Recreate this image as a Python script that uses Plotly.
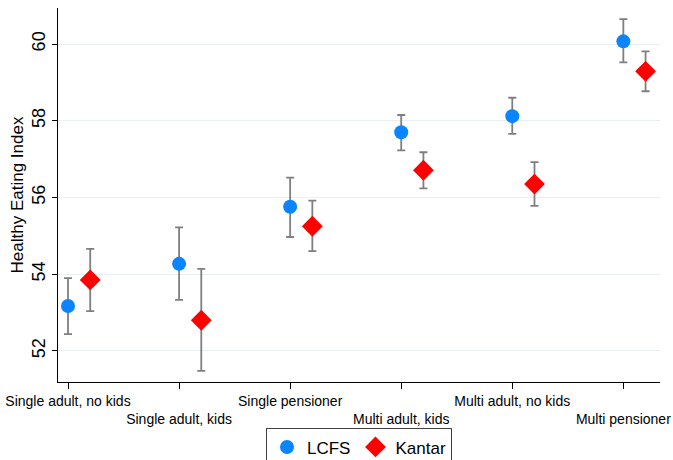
import plotly.graph_objects as go

categories = ["Single adult, no kids", "Single adult, kids", "Single pensioner",
              "Multi adult, kids", "Multi adult, no kids", "Multi pensioner"]
lcfs = [53.17, 54.27, 55.76, 57.70, 58.12, 60.07]
lcfs_hi = [53.90, 55.22, 56.52, 58.15, 58.60, 60.65]
lcfs_lo = [52.44, 53.33, 54.97, 57.23, 57.66, 59.52]
kantar = [53.85, 52.80, 55.25, 56.71, 56.35, 59.29]
kantar_hi = [54.66, 54.14, 55.92, 57.18, 56.92, 59.81]
kantar_lo = [53.04, 51.48, 54.60, 56.24, 55.78, 58.77]
yticks = [52, 54, 56, 58, 60]

xpos = list(range(len(categories)))
offset = 0.2
ticktext = [c if i % 2 == 0 else "<br>" + c for i, c in enumerate(categories)]

fig = go.Figure()
fig.add_trace(go.Scatter(
    x=xpos, y=lcfs, mode="markers", name="LCFS",
    marker=dict(symbol="circle", size=14, color="#0A84FF"),
    error_y=dict(type="data", symmetric=False,
                 array=[h - v for h, v in zip(lcfs_hi, lcfs)],
                 arrayminus=[v - l for v, l in zip(lcfs, lcfs_lo)],
                 color="#7F7F7F", thickness=1.8, width=4)))
fig.add_trace(go.Scatter(
    x=[p + offset for p in xpos], y=kantar, mode="markers", name="Kantar",
    marker=dict(symbol="diamond", size=16, color="#FF0000"),
    error_y=dict(type="data", symmetric=False,
                 array=[h - v for h, v in zip(kantar_hi, kantar)],
                 arrayminus=[v - l for v, l in zip(kantar, kantar_lo)],
                 color="#7F7F7F", thickness=1.8, width=4)))

fig.update_layout(
    width=673, height=460,
    margin=dict(l=58, r=13, t=8, b=78, autoexpand=False),
    plot_bgcolor="white", paper_bgcolor="white",
    font=dict(family="Liberation Sans, Arial, sans-serif", color="black"),
    showlegend=True,
    legend=dict(orientation="h", x=0.5, xanchor="center", y=-0.124, yanchor="top",
                bordercolor="#404040", borderwidth=1, font=dict(size=17),
                itemwidth=30),
    xaxis=dict(range=[-0.09, 5.33], tickmode="array", tickvals=xpos, ticktext=ticktext,
               tickangle=0,
               showgrid=False, showline=True, linecolor="black", linewidth=1,
               ticks="outside", ticklen=6, tickcolor="black", tickfont=dict(size=14),
               zeroline=False, automargin=False),
    yaxis=dict(range=[51.19, 60.94], tickmode="array", tickvals=yticks,
               tickangle=-90, showgrid=True, gridcolor="#E8F0F2", gridwidth=1,
               showline=True, linecolor="black", linewidth=1,
               ticks="outside", ticklen=5, tickcolor="black", tickfont=dict(size=18),
               title=dict(text="Healthy Eating Index", font=dict(size=17), standoff=0),
               zeroline=False, automargin=False),
)

fig.write_html("out.html")
